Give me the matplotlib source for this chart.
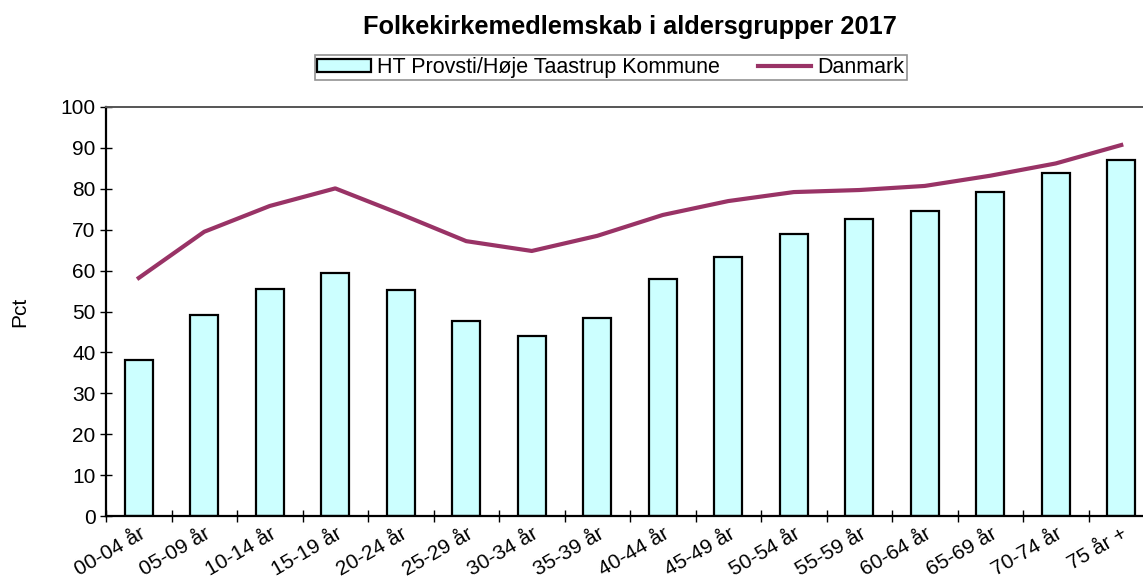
import matplotlib.pyplot as plt
import numpy as np

# ===================
# DATA
# ===================
CATEGORIES = ["00-04 år", "05-09 år", "10-14 år", "15-19 år", "20-24 år", "25-29 år",
              "30-34 år", "35-39 år", "40-44 år", "45-49 år", "50-54 år", "55-59 år",
              "60-64 år", "65-69 år", "70-74 år", "75 år +"]
HT_VALUES = [38.1, 49.1, 55.5, 59.4, 55.3, 47.7, 44.0, 48.4,
             57.9, 63.3, 69.0, 72.6, 74.6, 79.2, 83.9, 87.0]
DK_VALUES = [58.2, 69.5, 75.8, 80.1, 73.8, 67.2, 64.8, 68.5,
             73.6, 77.0, 79.2, 79.7, 80.7, 83.2, 86.2, 90.7]

TITLE = "Folkekirkemedlemskab i aldersgrupper 2017"
HT_LABEL = "HT Provsti/Høje Taastrup Kommune"
DK_LABEL = "Danmark"

# ===================
# STYLE
# ===================
plt.rcParams['font.family'] = ['Liberation Sans', 'DejaVu Sans']
BAR_COLOR = "#CCFFFF"
LINE_COLOR = "#993366"
FS = 15

fig = plt.figure(figsize=(11.43, 5.82), dpi=100)
ax = fig.add_axes([106 / 1143, 66 / 582, 1048 / 1143, 409 / 582])

x = np.arange(len(CATEGORIES))
bars = ax.bar(x, HT_VALUES, width=0.42, color=BAR_COLOR, edgecolor='black', linewidth=1.6,
              label=HT_LABEL, zorder=2)
line, = ax.plot(x, DK_VALUES, color=LINE_COLOR, linewidth=3, label=DK_LABEL, zorder=3)

ax.set_xlim(-0.5, len(CATEGORIES) - 0.5)
ax.set_ylim(0, 100)
ax.set_yticks(range(0, 101, 10))
ax.tick_params(axis='y', labelsize=FS, direction='inout', length=9, width=1, pad=3)

# category labels at centres, tick marks between categories
ax.set_xticks(x)
ax.set_xticklabels(CATEGORIES, rotation=30, ha='right', rotation_mode='anchor', fontsize=FS)
ax.tick_params(axis='x', which='major', length=0, pad=6)
ax.set_xticks(np.arange(-0.5, len(CATEGORIES), 1), minor=True)
ax.tick_params(axis='x', which='minor', direction='inout', length=9, width=1)

for side in ['left', 'bottom']:
    ax.spines[side].set_linewidth(1.6)
ax.spines['top'].set_color('#555555')
ax.spines['top'].set_linewidth(1.4)
ax.spines['right'].set_visible(False)

ax.set_ylabel("Pct", fontsize=FS)
ax.yaxis.set_label_coords(-0.073, 0.5)

fig.text(630 / 1143, 0.954, TITLE, ha='center', va='center', fontsize=18.3, weight='bold')

leg = fig.legend([bars, line], [HT_LABEL, DK_LABEL], loc='center',
                 bbox_to_anchor=(611 / 1143, 0.884), ncol=2, fontsize=15.5,
                 frameon=True, fancybox=False, edgecolor='#777777', borderpad=0.1,
                 handlelength=2.47, handletextpad=0.28, columnspacing=1.8,
                 handleheight=0.5, borderaxespad=0)
leg.get_frame().set_linewidth(1.2)

fig.savefig("out.png", dpi=100)
